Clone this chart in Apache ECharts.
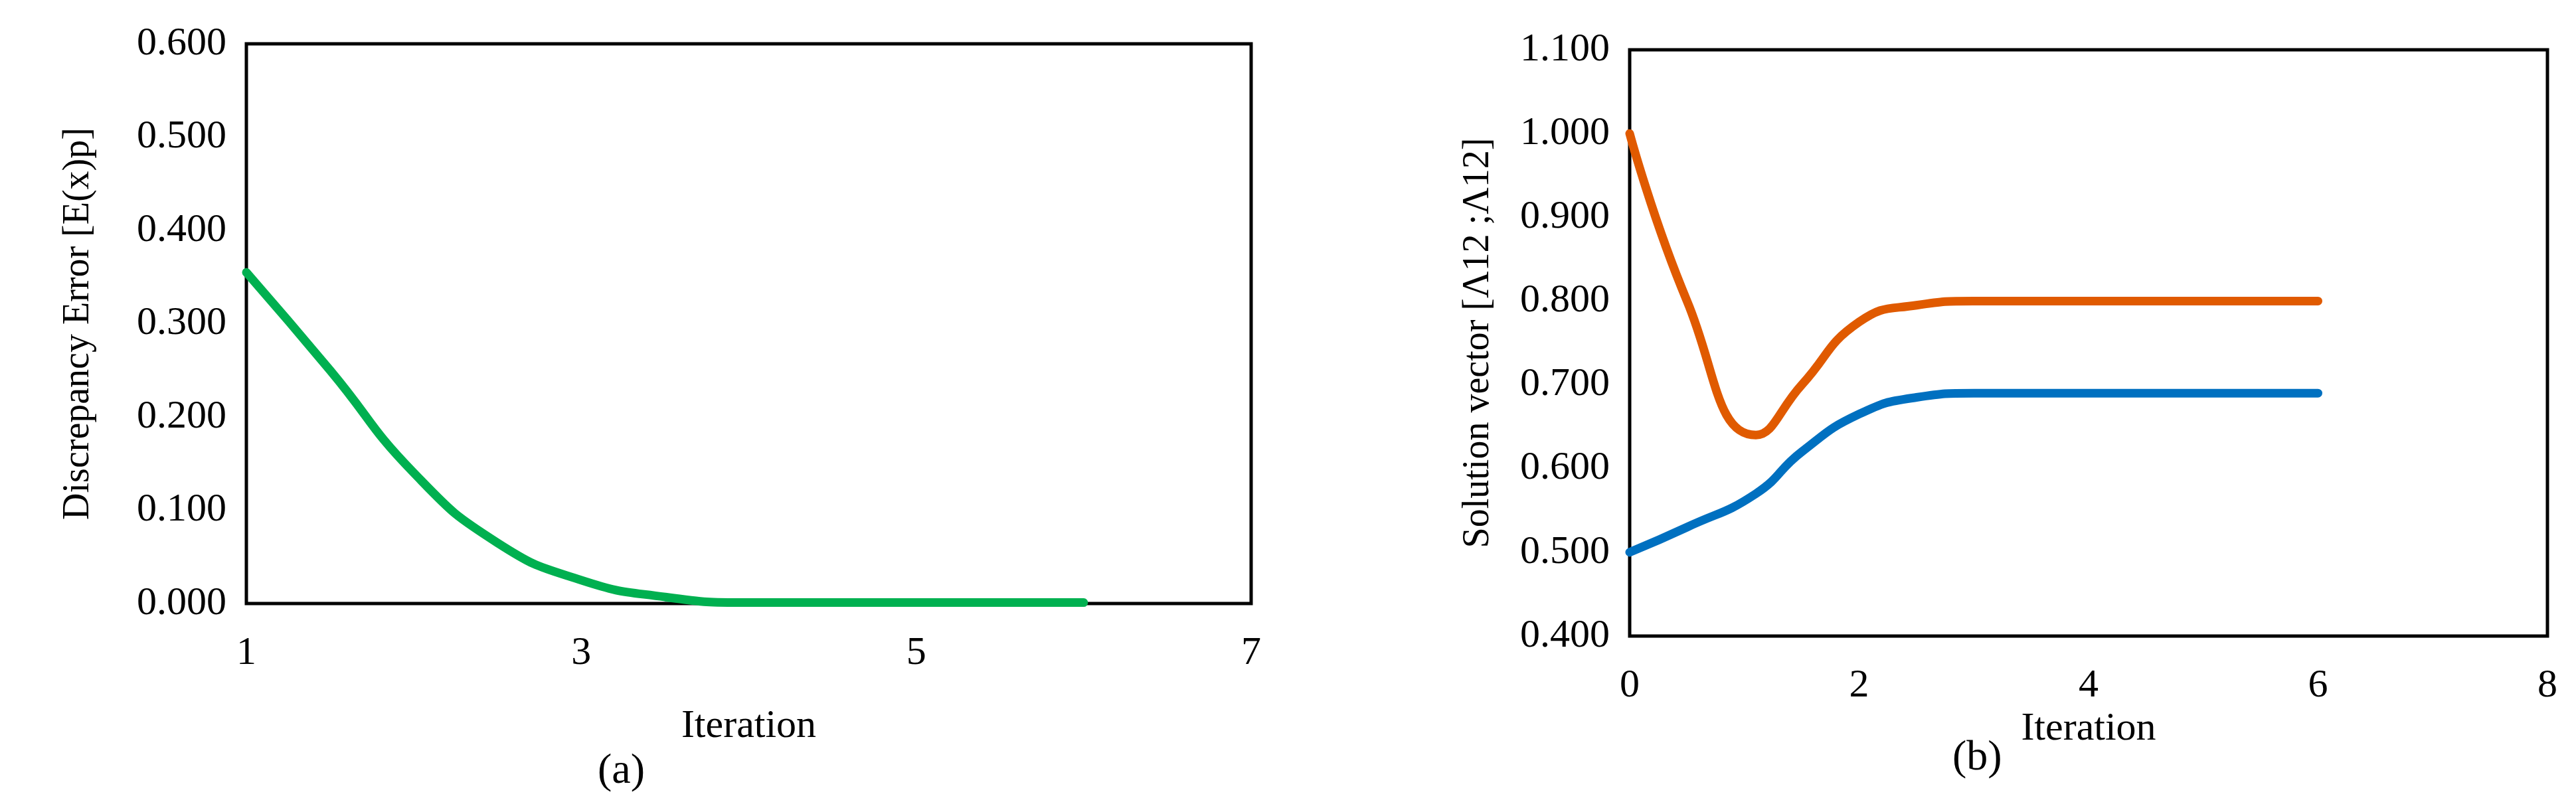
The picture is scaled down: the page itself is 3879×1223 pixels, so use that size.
<!DOCTYPE html>
<html><head><meta charset="utf-8">
<script src="https://cdn.jsdelivr.net/npm/echarts@6/dist/echarts.min.js"></script>
<style>html,body{margin:0;background:#fff}#c{width:3879px;height:1223px}</style>
</head><body><div id="c"></div>
<script>
// (a) discrepancy error
var errIter = [1, 1.5, 2, 2.5, 3, 3.5, 4, 5, 6];
var errVals = [0.355, 0.25, 0.14, 0.065, 0.025, 0.007, 0.001, 0.001, 0.001];
// (b) solution vector
var solIter = [0, 0.5, 1.1, 1.5, 2, 2.5, 3, 4, 5, 6];
var solA = [1.0, 0.80, 0.64, 0.70, 0.775, 0.795, 0.80, 0.80, 0.80, 0.80];
var solB = [0.50, 0.53, 0.57, 0.62, 0.665, 0.685, 0.69, 0.69, 0.69, 0.69];

function pairs(xs, ys) { return xs.map(function (x, i) { return [x, ys[i]]; }); }

var font = 'Liberation Serif';
var chart = echarts.init(document.getElementById('c'));
var lbl = { color: '#000', fontFamily: font, fontSize: 60, margin: 30 };
function yAx(idx, min, max, name) {
    return {
        gridIndex: idx, type: 'value', min: min, max: max, interval: 0.1,
        axisLabel: Object.assign({ formatter: function (v) { return v.toFixed(3); } }, lbl),
        axisLine: { show: false }, axisTick: { show: false }, splitLine: { show: false },
        name: name, nameLocation: 'middle', nameGap: idx ? 200 : 225,
        nameTextStyle: { color: '#000', fontFamily: font, fontSize: 56 }
    };
}
function xAx(idx, min, max, gap) {
    return {
        gridIndex: idx, type: 'value', min: min, max: max, interval: 2,
        axisLabel: Object.assign({}, lbl, { margin: 45 }),
        axisLine: { show: false }, axisTick: { show: false }, splitLine: { show: false },
        name: 'Iteration', nameLocation: 'middle', nameGap: gap,
        nameTextStyle: { color: '#000', fontFamily: font, fontSize: 60 }
    };
}
function line(idx, data, color) {
    return {
        type: 'line', xAxisIndex: idx, yAxisIndex: idx, data: data, smooth: true,
        showSymbol: false, lineStyle: { color: color, width: 13, cap: 'round' }
    };
}
chart.setOption({
    animation: false,
    grid: [
        { left: 371, top: 66, width: 1513, height: 843, show: true, borderColor: '#000', borderWidth: 5 },
        { left: 2454, top: 75, width: 1382, height: 883, show: true, borderColor: '#000', borderWidth: 5 }
    ],
    xAxis: [xAx(0, 1, 7, 155), xAx(1, 0, 8, 90)],
    yAxis: [yAx(0, 0, 0.6, 'Discrepancy Error [E(x)p]'), yAx(1, 0.4, 1.1, 'Solution vector [Λ12 ;Λ12]')],
    series: [
        line(0, pairs(errIter, errVals), '#00b050'),
        line(1, pairs(solIter, solA), '#e05a00'),
        line(1, pairs(solIter, solB), '#0070c0')
    ],
    graphic: [
        { type: 'text', left: 900, top: 1130, style: { text: '(a)', font: '64px "Liberation Serif"', fill: '#000' } },
        { type: 'text', left: 2940, top: 1110, style: { text: '(b)', font: '64px "Liberation Serif"', fill: '#000' } }
    ]
});
</script></body></html>
